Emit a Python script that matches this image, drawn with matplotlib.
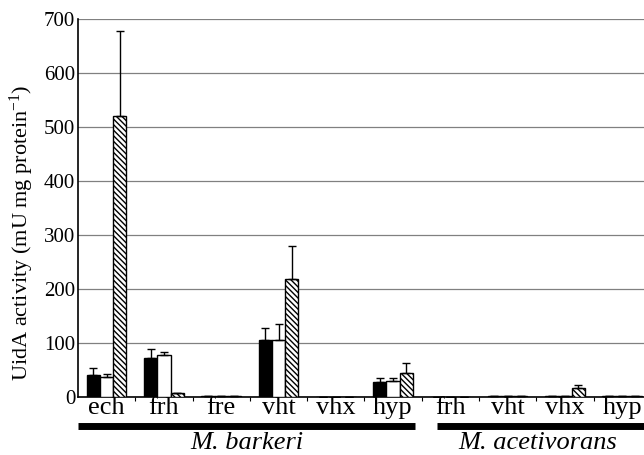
import matplotlib
matplotlib.use("Agg")
import matplotlib.pyplot as plt
import numpy as np
from matplotlib.transforms import blended_transform_factory

plt.rcParams['font.family'] = ['Liberation Serif', 'DejaVu Serif']
plt.rcParams['mathtext.fontset'] = 'custom'
plt.rcParams['mathtext.rm'] = 'Liberation Serif'
plt.rcParams['mathtext.it'] = 'Liberation Serif:italic'
plt.rcParams['hatch.linewidth'] = 1.0

genes = ["ech", "frh", "fre", "vht", "vhx", "hyp", "frh", "vht", "vhx", "hyp"]
black_vals = [40, 73, 2, 106, 0, 28, 0.5, 1, 2, 2]
black_err = [13, 15, 0, 21, 0, 7, 0, 0, 0, 0]
white_vals = [37, 78, 1, 106, 0, 29, 0.5, 1, 2, 2]
white_err = [6, 5, 0, 29, 0, 7, 0, 0, 0, 0]
hatch_vals = [520, 8, 1, 218, 0, 45, 0.5, 1, 17, 2]
hatch_err = [158, 0, 0, 62, 0, 18, 0, 0, 5, 0]
yticks = [0, 100, 200, 300, 400, 500, 600, 700]

fig = plt.figure(figsize=(6.44, 4.55), dpi=100)
ax = fig.add_axes([78/644, 58/455, 1 - 78/644, 378/455])

x = np.arange(len(genes))
w = 0.23
ekw = dict(ecolor='black', elinewidth=1, capsize=3, capthick=1)
zeros = np.zeros(len(x))
ax.bar(x - w, black_vals, w, color='black', edgecolor='black', linewidth=1,
       yerr=[zeros, black_err], error_kw=ekw, zorder=3)
ax.bar(x, white_vals, w, color='white', edgecolor='black', linewidth=1,
       yerr=[zeros, white_err], error_kw=ekw, zorder=3)
ax.bar(x + w, hatch_vals, w, color='white', edgecolor='black', linewidth=1,
       hatch='\\\\\\\\\\\\', yerr=[zeros, hatch_err], error_kw=ekw, zorder=3)

ax.set_xlim(-0.5, 9.38)
ax.set_ylim(0, 700)
ax.set_yticks(yticks)
ax.set_yticklabels([str(v) for v in yticks], fontsize=15)
ax.yaxis.grid(True, color='#808080', linewidth=0.9, zorder=0)
ax.set_axisbelow(True)
ax.tick_params(axis='y', length=0, pad=2)

ax.set_xticks(x)
ax.set_xticklabels(genes, fontsize=19)
ax.set_xticks(np.arange(0.5, 9.5, 1), minor=True)
ax.tick_params(axis='x', which='major', length=0, pad=0)
ax.tick_params(axis='x', which='minor', length=3, width=0.8, direction='out')

for s in ['top', 'right']:
    ax.spines[s].set_visible(False)
ax.spines['left'].set_linewidth(1.2)
ax.spines['bottom'].set_linewidth(1.2)

fig.text(22/644, 1 - 233/455, "UidA activity (mU mg protein$^{\\mathrm{-1}}$)",
         fontsize=16, rotation=90, ha='center', va='center')

tr = blended_transform_factory(ax.transData, ax.transAxes)
ax.plot([-0.5, 5.38], [-0.0754, -0.0754], transform=tr, color='black', linewidth=5,
        clip_on=False, solid_capstyle='butt')
ax.plot([5.77, 9.5], [-0.0754, -0.0754], transform=tr, color='black', linewidth=5,
        clip_on=False, solid_capstyle='butt')
ax.text(2.45, -0.138, "M. barkeri", transform=tr, fontsize=19, style='italic',
        ha='center', va='baseline')
ax.text(7.52, -0.138, "M. acetivorans", transform=tr, fontsize=19, style='italic',
        ha='center', va='baseline')

fig.savefig("out.png", dpi=100)
